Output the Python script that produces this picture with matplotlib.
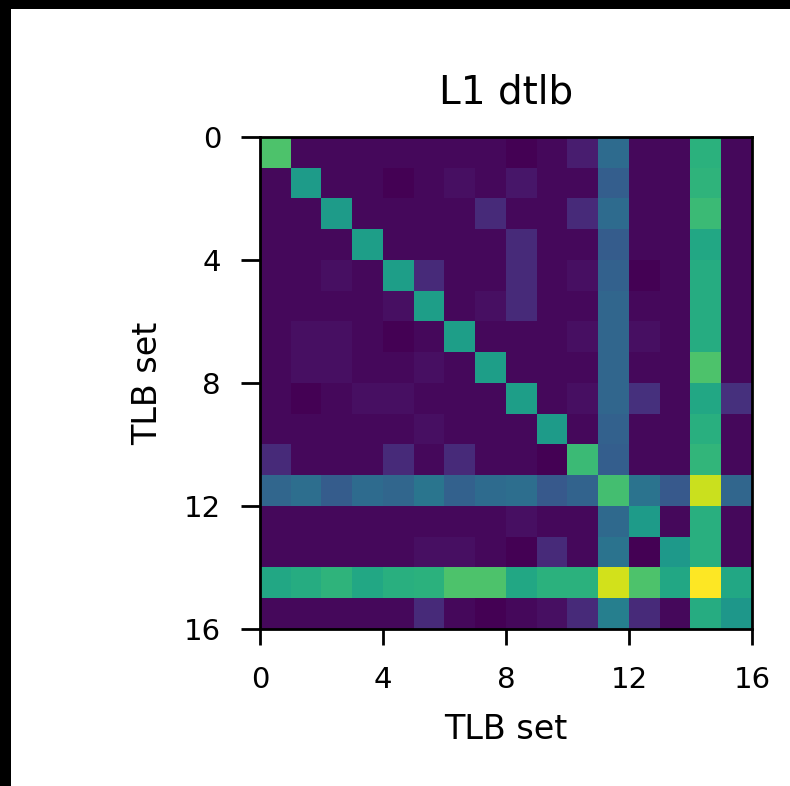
import numpy as np
import matplotlib
matplotlib.use("Agg")
import matplotlib.pyplot as plt
from matplotlib.patches import Rectangle

title = "L1 dtlb"
x_label = "TLB set"
y_label = "TLB set"
tick_values = [0, 4, 8, 12, 16]

# normalised co-occurrence per (row set, column set)
row_00 = [.72, .02, .02, .02, .02, .02, .02, .02, .00, .02, .08, .35, .02, .02, .64, .02]
row_01 = [.02, .55, .02, .02, .00, .02, .04, .02, .06, .02, .02, .30, .02, .02, .65, .02]
row_02 = [.02, .02, .55, .02, .02, .02, .02, .12, .02, .02, .12, .35, .02, .02, .68, .02]
row_03 = [.02, .02, .02, .56, .02, .02, .02, .02, .12, .02, .02, .29, .02, .02, .60, .02]
row_04 = [.02, .02, .04, .02, .56, .12, .02, .02, .12, .02, .04, .31, .00, .02, .62, .02]
row_05 = [.02, .02, .02, .02, .04, .56, .02, .04, .12, .02, .02, .33, .02, .02, .62, .02]
row_06 = [.02, .04, .04, .02, .00, .02, .56, .02, .02, .02, .04, .33, .04, .02, .62, .02]
row_07 = [.02, .04, .04, .02, .02, .04, .02, .56, .02, .02, .02, .33, .02, .02, .72, .02]
row_08 = [.02, .00, .02, .04, .04, .02, .02, .02, .56, .02, .04, .33, .14, .02, .60, .14]
row_09 = [.02, .02, .02, .02, .02, .04, .02, .02, .02, .55, .02, .31, .02, .02, .63, .02]
row_10 = [.12, .02, .02, .02, .12, .02, .12, .02, .02, .00, .68, .30, .02, .02, .66, .02]
row_11 = [.33, .36, .29, .35, .33, .39, .31, .35, .36, .28, .32, .70, .38, .28, .92, .33]
row_12 = [.02, .02, .02, .02, .02, .02, .02, .02, .04, .02, .02, .34, .55, .02, .63, .02]
row_13 = [.02, .02, .02, .02, .02, .04, .04, .02, .00, .12, .02, .38, .00, .54, .63, .02]
row_14 = [.60, .62, .65, .60, .63, .64, .72, .72, .60, .64, .64, .93, .72, .60, 1.0, .60]
row_15 = [.02, .02, .02, .02, .02, .12, .02, .00, .02, .04, .12, .43, .12, .02, .62, .53]

matrix = np.array([row_00, row_01, row_02, row_03, row_04, row_05, row_06, row_07,
                   row_08, row_09, row_10, row_11, row_12, row_13, row_14, row_15])
n = matrix.shape[0]

fig = plt.figure(figsize=(7.9, 7.86), dpi=100, facecolor="black")
# white page with the black strip on top and left
fig.patches.append(Rectangle((11 / 790, 0), 1, 1 - 9 / 786, transform=fig.transFigure,
                             facecolor="white", edgecolor="none", zorder=-1))

ax = fig.add_axes([260 / 790, 1 - 629 / 786, 492 / 790, 492 / 786])
ax.imshow(matrix, cmap="viridis", vmin=0, vmax=1, interpolation="nearest",
          extent=(0, n, n, 0), aspect="auto")

ax.set_xticks(tick_values)
ax.set_yticks(tick_values)
ax.tick_params(axis="both", width=2, labelsize=21)
ax.tick_params(axis="x", length=11.5, pad=15)
ax.tick_params(axis="y", length=14, pad=14)
for s in ax.spines.values():
    s.set_linewidth(2)

ax.set_title(title, fontsize=28, pad=24)
ax.set_xlabel(x_label, fontsize=24, labelpad=14)
ax.set_ylabel(y_label, fontsize=24, labelpad=14)

fig.savefig("out.png", dpi=100, facecolor=fig.get_facecolor())
